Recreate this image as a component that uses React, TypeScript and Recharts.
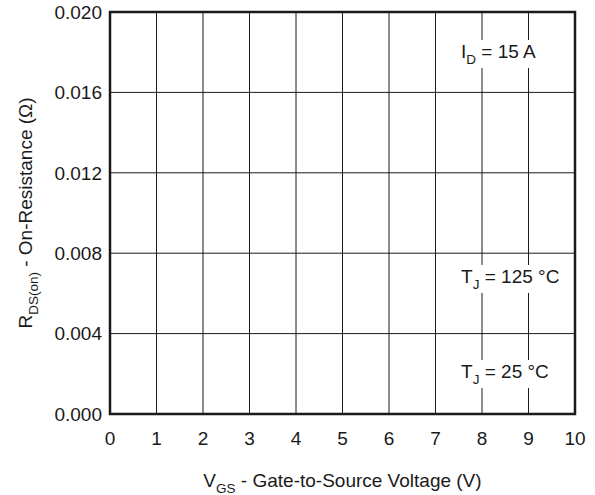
import React from "react";
import {
  LineChart,
  Line,
  XAxis,
  YAxis,
  CartesianGrid,
  ReferenceArea,
  ReferenceDot,
  Label,
} from "recharts";

const vgsTicks = [0, 1, 2, 3, 4, 5, 6, 7, 8, 9, 10];
const rdsTicks = [0, 0.004, 0.008, 0.012, 0.016, 0.02];
// no curves are plotted in the reference, only the empty grid
const rdsValues: (number | null)[] = vgsTicks.map(() => null);

const points = vgsTicks.map((v, i) => ({ vgs: v, rds: rdsValues[i] }));

const notes = [
  { vgs: 7.55, rds: 0.01771, sym: "I", sub: "D", rest: " = 15 A" },
  { vgs: 7.55, rds: 0.00652, sym: "T", sub: "J", rest: " = 125 °C" },
  { vgs: 7.55, rds: 0.00179, sym: "T", sub: "J", rest: " = 25 °C" },
];

const FONT = "'Liberation Sans', Arial, sans-serif";
const INK = "#1a1a1a";
const FS = 19;
const SUB = 13.5;

function noteShape(n: (typeof notes)[number]) {
  return (props: any) => {
    const { cx, cy } = props;
    return (
      <g>
        <rect x={cx - 3} y={cy - 18} width={104} height={28} fill="#fff" />
        <text x={cx} y={cy} fontSize={FS} fill={INK} fontFamily={FONT}>
          {n.sym}
          <tspan fontSize={SUB} dy={6}>
            {n.sub}
          </tspan>
          <tspan dy={-6}>{n.rest}</tspan>
        </text>
      </g>
    );
  };
}

const xTitle = (props: any) => {
  const { x, y, width } = props.viewBox;
  return (
    <text
      x={x + width / 2}
      y={y + 73}
      textAnchor="middle"
      fontSize={FS}
      fill={INK}
      fontFamily={FONT}
    >
      V<tspan fontSize={SUB} dy={6}>GS</tspan>
      <tspan dy={-6}> - Gate-to-Source Voltage (V)</tspan>
    </text>
  );
};

const yTitle = (props: any) => {
  const { y, height } = props.viewBox;
  const cx = 32;
  const cy = y + height / 2;
  return (
    <text
      x={cx}
      y={cy}
      textAnchor="middle"
      fontSize={FS}
      fill={INK}
      fontFamily={FONT}
      transform={`rotate(-90 ${cx} ${cy})`}
    >
      R<tspan fontSize={SUB} dy={6}>DS(on)</tspan>
      <tspan dy={-6}> - On-Resistance (Ω)</tspan>
    </text>
  );
};

export default function App() {
  return (
    <div style={{ position: "absolute", left: 0, top: 0, background: "#fff" }}>
      <LineChart
        width={595}
        height={495}
        data={points}
        margin={{ top: 12, right: 20, bottom: 0, left: 0 }}
      >
        <CartesianGrid stroke={INK} strokeWidth={1} />
        <XAxis
          dataKey="vgs"
          type="number"
          domain={[0, 10]}
          ticks={vgsTicks}
          height={81}
          axisLine={false}
          tickLine={false}
          tickSize={0}
          tickMargin={18}
          allowDataOverflow
          tick={{ fontSize: FS, fill: INK, fontFamily: FONT }}
        >
          <Label content={xTitle} />
        </XAxis>
        <YAxis
          type="number"
          domain={[0, 0.02]}
          ticks={rdsTicks}
          width={110}
          axisLine={false}
          tickLine={false}
          tickSize={0}
          tickMargin={8}
          allowDataOverflow
          tickFormatter={(v: number) => v.toFixed(3)}
          tick={{ fontSize: FS, fill: INK, fontFamily: FONT }}
        >
          <Label content={yTitle} />
        </YAxis>
        <Line
          dataKey="rds"
          stroke={INK}
          dot={false}
          isAnimationActive={false}
        />
        <ReferenceArea
          x1={0}
          x2={10}
          y1={0}
          y2={0.02}
          fill="none"
          stroke={INK}
          strokeWidth={2.5}
          ifOverflow="visible"
        />
        {notes.map((n, i) => (
          <ReferenceDot
            key={i}
            x={n.vgs}
            y={n.rds}
            r={0}
            shape={noteShape(n)}
            ifOverflow="visible"
          />
        ))}
      </LineChart>
    </div>
  );
}
